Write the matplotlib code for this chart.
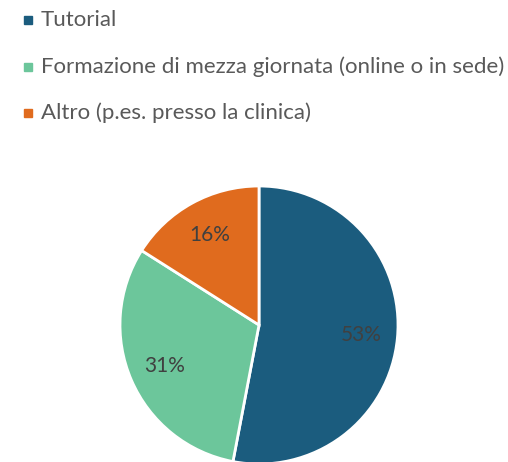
import matplotlib.pyplot as plt
from matplotlib.patches import Rectangle

labels = ['Tutorial',
          'Formazione di mezza giornata (online o in sede)',
          'Altro (p.es. presso la clinica)']
values = [53, 31, 16]
colors = ['#1B5C7E', '#6CC69B', '#E06B1E']

plt.rcParams['font.family'] = ['Lato', 'DejaVu Sans']

W, H = 508, 462
fig = plt.figure(figsize=(W / 100, H / 100), dpi=100)

# pie axes: centre (259, 325) px, radius 139 px
cx, cy, r = 259, 325, 139
ax = fig.add_axes([(cx - r) / W, (H - cy - r) / H, 2 * r / W, 2 * r / H])
wedges, texts, autotexts = ax.pie(
    values, colors=colors, startangle=90, counterclock=False,
    autopct=lambda p: '{:.0f}%'.format(round(p)), pctdistance=0.74,
    wedgeprops=dict(edgecolor='white', linewidth=2))
for t in autotexts:
    t.set_color('#404040')
    t.set_fontsize(15)
ax.set_aspect('equal')
ax.set_xlim(-1, 1)
ax.set_ylim(-1, 1)

# legend at top-left
ys = [20, 67, 113]
for lab, col, y in zip(labels, colors, ys):
    fig.patches.append(Rectangle((24 / W, (H - y - 4) / H), 8 / W, 8 / H,
                                 transform=fig.transFigure, color=col))
    fig.text(41 / W, (H - y) / H, lab, fontsize=16, color='#595959',
             va='center', ha='left')

fig.savefig('out.png', dpi=100)
